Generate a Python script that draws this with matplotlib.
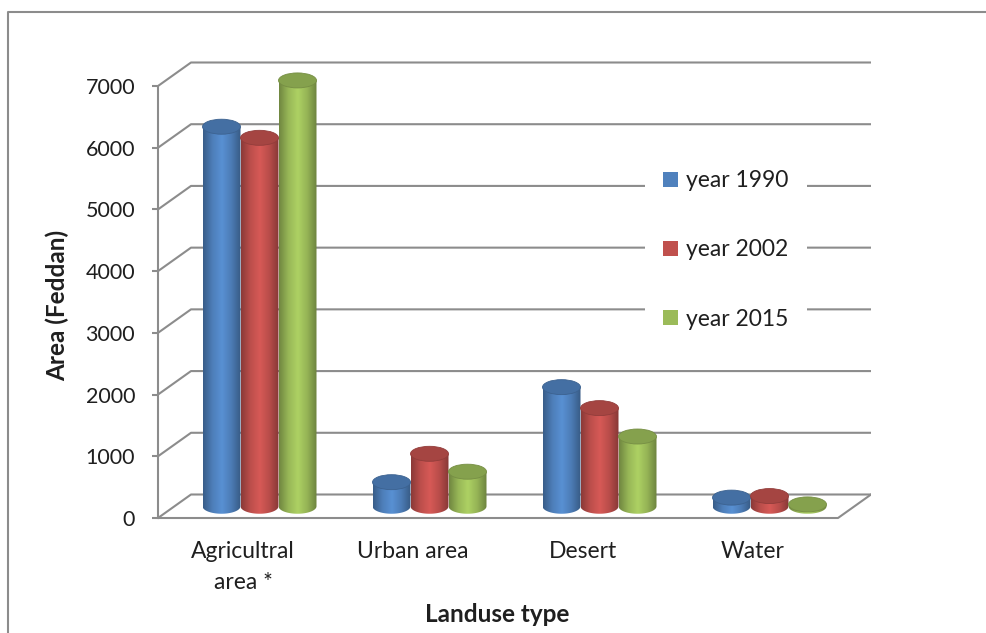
import numpy as np
import matplotlib
matplotlib.use('Agg')
import matplotlib.pyplot as plt
from matplotlib.patches import Ellipse, PathPatch, Patch
from matplotlib.path import Path
from matplotlib.lines import Line2D
from matplotlib.colors import LinearSegmentedColormap, to_rgb

# data
categories = ['Agricultral\narea *', 'Urban area', 'Desert', 'Water']
series = ['year 1990', 'year 2002', 'year 2015']
y1990 = [6150, 390, 1930, 140]
y2002 = [5970, 850, 1590, 165]
y2015 = [6900, 560, 1130, 30]
yticks = [0, 1000, 2000, 3000, 4000, 5000, 6000, 7000]
colors = ['#4F81BD', '#C0504D', '#9BBB59']

plt.rcParams['font.family'] = ['Lato', 'DejaVu Sans']
gc = '#8c8c8c'      # grid / wall colour
tc = '#1f1f1f'      # text colour
fs = 15.5           # tick numbers
fs_cat = 16.5       # category + legend text
fs_title = 17.5     # axis titles

W, H = 986, 633
fig = plt.figure(figsize=(W / 100, H / 100), dpi=100)

# front plane: x -0.5..3.5 -> 158..838 px, value 0..7000 -> 518..86 px
s = 432 / 7000          # px per value unit
dx = 33 / 170           # depth shift in category units
dy = 23.5 / s           # depth shift in value units
ylo, yhi = -50, 7450
ax = fig.add_axes([158 / W, (H - (518 - ylo * s)) / H,
                   (680 + 33) / W, (yhi - ylo) * s / H])
ax.set_xlim(-0.5, 3.5 + dx)
ax.set_ylim(ylo, yhi)

# back wall, side wall connectors, floor
for v in yticks:
    ax.plot([-0.5, -0.5 + dx, 3.5 + dx], [v, v + dy, v + dy],
            color=gc, lw=1.5, zorder=1)
ax.plot([-0.5, 3.5, 3.5 + dx], [0, 0, dy], color=gc, lw=1.5, zorder=1)

for sp in ['top', 'right', 'bottom']:
    ax.spines[sp].set_visible(False)
ax.spines['left'].set_bounds(0, 7000)
ax.spines['left'].set_color(gc)
ax.spines['left'].set_linewidth(1.5)
ax.set_yticks(yticks)
ax.set_yticklabels([str(v) for v in yticks])
ax.tick_params(axis='y', length=4.5, width=1.5, color=gc, pad=12,
               labelsize=fs, labelcolor=tc)
ax.set_xticks([])

for i, lab in enumerate(categories):
    ax.annotate(lab, (i, 0), xytext=(0, -23), textcoords='offset pixels',
                ha='center', va='top', fontsize=fs_cat, color=tc,
                multialignment='center', linespacing=1.6)

# cylinders
values = [y1990, y2002, y2015]
bw = 38 / 170
eh = 15 / s
base = dy / 2
t = np.linspace(np.pi, 2 * np.pi, 60)
grad = np.linspace(0, 1, 128)[None, :]
for k, (vals, c) in enumerate(zip(values, colors)):
    rgb = np.array(to_rgb(c))
    cmap = LinearSegmentedColormap.from_list(
        'cyl', [rgb * 0.72, rgb * 0.98, np.minimum(rgb * 1.12, 1), rgb * 0.96, rgb * 0.7])
    for i, v in enumerate(vals):
        xc = i + dx / 2 + (k - 1) * bw
        xa, xb = xc - bw / 2, xc + bw / 2
        top = base + v
        verts = [(xa, top)] + list(zip(xc + bw / 2 * np.cos(t), base + eh / 2 * np.sin(t))) \
            + [(xb, top), (xa, top)]
        body = PathPatch(Path(verts), facecolor='none', edgecolor='none')
        ax.add_patch(body)
        im = ax.imshow(grad, cmap=cmap, extent=(xa, xb, base - eh / 2, top),
                       aspect='auto', interpolation='bilinear', zorder=3 + k)
        im.set_clip_path(body)
        ax.add_patch(Ellipse((xc, top), bw, eh, facecolor=rgb * 0.86,
                             edgecolor=rgb * 0.76, lw=0.6, zorder=3.5 + k))

ax.set_xlim(-0.5, 3.5 + dx)
ax.set_ylim(ylo, yhi)

handles = [Patch(facecolor=c, edgecolor='none') for c in colors]
ax.legend(handles, series, loc='center', bbox_to_anchor=(726 / W, 1 - 250 / H),
          bbox_transform=fig.transFigure, frameon=True, facecolor='white',
          edgecolor='none', framealpha=1, fancybox=False, fontsize=fs_cat,
          labelspacing=2.1, handlelength=0.65, handleheight=0.65,
          handletextpad=0.35, borderpad=0.8, labelcolor=tc)

fig.text(57 / W, 1 - 305 / H, 'Area (Feddan)', rotation=90, fontweight='bold',
         ha='center', va='center', fontsize=fs_title, color=tc)
fig.text(497 / W, 1 - 615 / H, 'Landuse type', fontweight='bold',
         ha='center', va='center', fontsize=fs_title, color=tc)

# outer chart border (top and left only visible)
fig.add_artist(Line2D([8 / W, 8 / W, 1], [0, 1 - 12 / H, 1 - 12 / H],
                      transform=fig.transFigure, color=gc, lw=1.5))

fig.savefig('out.png', dpi=100)
